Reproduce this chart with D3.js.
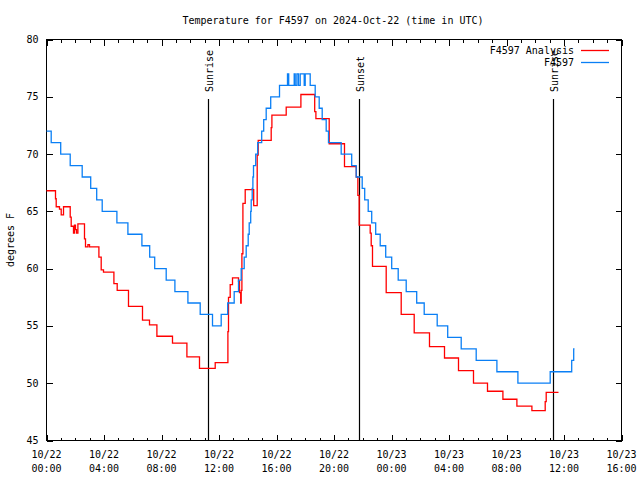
<!DOCTYPE html>
<html>
<head>
<meta charset="utf-8">
<script src="https://cdn.jsdelivr.net/npm/d3@7/dist/d3.min.js"></script>
<style>
html,body{margin:0;padding:0;background:#fff;}
svg{display:block;}
text{font-family:"DejaVu Sans Mono","Liberation Mono",monospace;font-size:10px;fill:#000;}
</style>
</head>
<body>
<svg id="chart" width="640" height="480"></svg>
<script>
// ---- data (hours since 2024-10-22 00:00 UTC) ----
const titleText = "Temperature for F4597 on 2024-Oct-22 (time in UTC)";
const yLabel = "degrees F";
const seriesNames = ["F4597 Analysis", "F4597"];
const yTicks = [45, 50, 55, 60, 65, 70, 75, 80];

const analysisHours = [0.0,0.626,0.675,0.904,1.023,1.183,1.649,1.718,1.878,1.948,2.017,2.087,2.184,2.643,2.713,2.88,2.991,3.645,3.805,3.965,4.689,4.918,5.704,6.678,7.165,7.68,8.765,9.767,10.643,11.736,12.619,12.661,12.779,12.939,13.357,13.426,13.51,13.544,13.593,13.663,13.823,14.414,14.657,14.727,15.631,15.68,16.675,17.697,18.657,18.741,19.666,20.73,21.55,21.66,21.75,22.518,22.588,22.678,23.631,24.675,25.579,26.643,27.687,28.661,29.704,30.678,31.75,32.723,33.767,34.692,34.762,35.617];
const analysisTemps = [66.8,66.1,65.4,65.2,64.7,65.4,64.5,63.7,63.1,63.8,63.4,63.1,63.9,62.6,61.9,62.1,61.9,61.0,59.9,59.7,58.7,58.1,56.7,55.5,55.1,54.1,53.5,52.3,51.3,51.8,54.5,57.5,58.6,59.2,58.9,57.9,57.0,58.1,61.3,65.7,66.9,65.5,69.9,71.2,72.3,73.4,74.1,75.2,73.7,73.1,70.9,68.9,68.0,66.4,63.8,63.1,62.0,60.2,57.9,56.0,54.4,53.2,52.2,51.1,50.0,49.3,48.6,48.0,47.6,48.4,49.2,49.2];

const obsHours = [0,0.327,0.988,1.649,2.483,3.075,3.492,3.875,4.897,5.663,6.637,7.179,7.527,8.327,8.932,9.837,10.692,11.548,12.153,12.605,13.057,13.357,13.544,13.753,13.892,14.031,14.101,14.205,14.24,14.31,14.358,14.4,14.553,14.692,14.97,15.11,15.283,15.597,16.209,16.765,16.849,17.231,17.301,17.419,17.53,17.649,17.927,17.997,18.344,18.692,18.97,19.179,19.457,19.617,20.5,21.231,21.544,21.962,22.136,22.379,22.623,22.9,23.214,23.597,24.014,24.466,25.023,25.753,26.275,27.179,27.91,28.849,29.892,31.332,32.793,35.04,36.536,36.675,36.73];
const obsTemps = [72,71,70,69,68,67,66,65,64,63,62,61,60,59,58,57,56,55,56,57,58,59,60,61,62,63,64,65,66,67,68,69,70,71,72,73,74,75,76,77,76,77,76,77,76,77,76,77,76,75,74,73,72,71,70,69,68,67,66,65,64,63,62,61,60,59,58,57,56,55,54,53,52,51,50,51,52,53,53];

const sunEventHours = [11.2, 21.77, 35.2];
const sunEventNames = ["Sunrise", "Sunset", "Sunrise"];

// ---- layout ----
const L = 46.5, R = 621.5, T = 39.5, B = 440.5;
const t0 = Date.UTC(2024, 9, 22, 0, 0);
const toDate = h => new Date(t0 + h * 3600e3);

const svg = d3.select("#chart");
const x = d3.scaleUtc().domain([new Date(t0), new Date(Date.UTC(2024, 9, 23, 16))]).range([L, R]);
const y = d3.scaleLinear().domain([45, 80]).range([B, T]);

// title
svg.append("text").attr("x", 333).attr("y", 24).attr("text-anchor", "middle").text(titleText);
// y label
svg.append("text").attr("transform", "translate(14,240) rotate(-90)").attr("text-anchor", "middle").text(yLabel);

// axes with inward ticks
const majorTicks = x.ticks(d3.utcHour.every(4));
const minorTicks = x.ticks(d3.utcHour.every(1));
function styleAxis(g){ g.select(".domain").remove(); g.selectAll("line").attr("stroke","#000").attr("shape-rendering","crispEdges"); g.selectAll("text").remove(); }
svg.append("g").attr("transform",`translate(0,${B})`).call(d3.axisBottom(x).tickValues(minorTicks).tickSize(-3)).call(styleAxis);
svg.append("g").attr("transform",`translate(0,${B})`).call(d3.axisBottom(x).tickValues(majorTicks).tickSize(-6)).call(styleAxis);
svg.append("g").attr("transform",`translate(0,${T})`).call(d3.axisTop(x).tickValues(minorTicks).tickSize(-3)).call(styleAxis);
svg.append("g").attr("transform",`translate(0,${T})`).call(d3.axisTop(x).tickValues(majorTicks).tickSize(-6)).call(styleAxis);
svg.append("g").attr("transform",`translate(${L},0)`).call(d3.axisLeft(y).tickValues(yTicks).tickSize(-6)).call(styleAxis);
svg.append("g").attr("transform",`translate(${R},0)`).call(d3.axisRight(y).tickValues(yTicks).tickSize(-6)).call(styleAxis);

// tick labels
const fmtD = d3.utcFormat("%m/%d"), fmtT = d3.utcFormat("%H:%M");
const xl = svg.append("g").selectAll("text").data(majorTicks).join("text")
  .attr("text-anchor","middle").attr("x", d => x(d));
xl.append("tspan").attr("x", d => x(d)).attr("y", B + 17).text(d => fmtD(d));
xl.append("tspan").attr("x", d => x(d)).attr("y", B + 31).text(d => fmtT(d));
svg.append("g").selectAll("text").data(yTicks).join("text")
  .attr("text-anchor","end").attr("x", L - 8).attr("y", d => y(d) + 3.5).text(d => d);

// frame
svg.append("rect").attr("x", L).attr("y", T).attr("width", R - L).attr("height", B - T)
  .attr("fill","none").attr("stroke","#000").attr("shape-rendering","crispEdges");

// sunrise / sunset
const ev = svg.append("g").selectAll("g").data(sunEventHours).join("g");
ev.append("line").attr("x1", d => Math.round(x(toDate(d))) + 0.5).attr("x2", d => Math.round(x(toDate(d))) + 0.5)
  .attr("y1", 99).attr("y2", B).attr("stroke","#000").attr("stroke-width",1.2);
ev.append("text").attr("transform", d => `translate(${Math.round(x(toDate(d))) + 4.5},92) rotate(-90)`)
  .attr("text-anchor","start").text((d,i) => sunEventNames[i]);

// lines
const line = d3.line().curve(d3.curveStepAfter).x(d => x(toDate(d[0]))).y(d => y(d[1]));
const analysis = analysisHours.map((h,i) => [h, analysisTemps[i]]);
const obs = obsHours.map((h,i) => [h, obsTemps[i]]);
const colors = ["#ff0000", "#0a7ff5"];
svg.append("path").datum(analysis).attr("d", line).attr("fill","none").attr("stroke",colors[0]).attr("stroke-width",1.3);
svg.append("path").datum(obs).attr("d", line).attr("fill","none").attr("stroke",colors[1]).attr("stroke-width",1.3);

// legend
const lg = svg.append("g").selectAll("g").data(seriesNames).join("g")
  .attr("transform", (d,i) => `translate(0,${50 + i * 12})`);
lg.append("text").attr("x", 574).attr("y", 3.5).attr("text-anchor","end").text(d => d);
lg.append("line").attr("x1", 581).attr("x2", 609).attr("y1", 0.5).attr("y2", 0.5)
  .attr("stroke", (d,i) => colors[i]).attr("stroke-width",1.3);
</script>
</body>
</html>
